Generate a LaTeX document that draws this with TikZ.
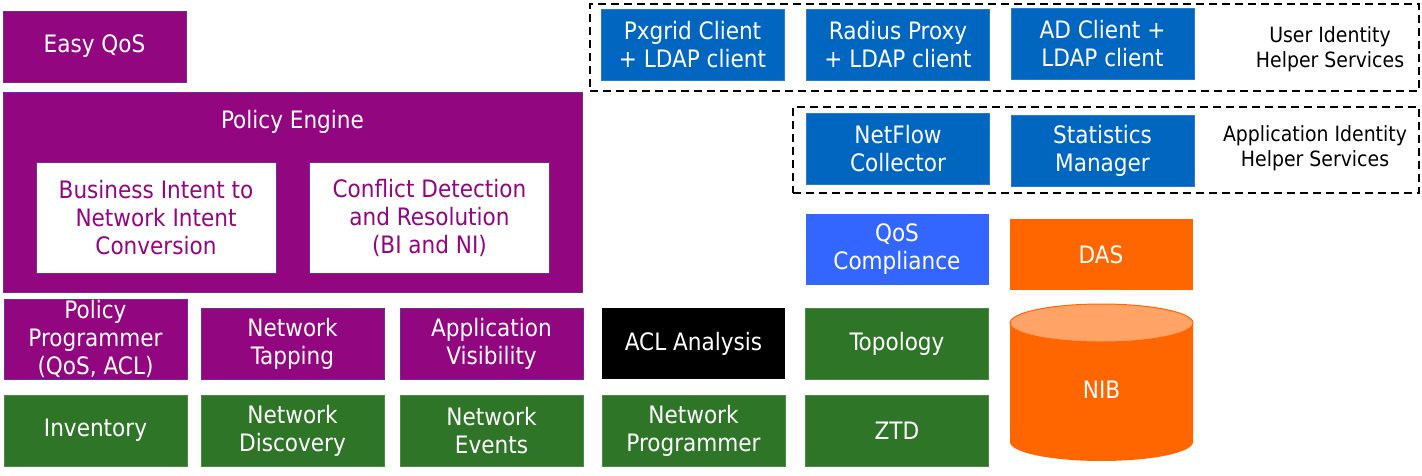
\documentclass[tikz,border=0pt]{standalone}
\usepackage{fontspec}
\setmainfont{DejaVu Sans Condensed}
\usepackage{tikz}
\usetikzlibrary{positioning}
\definecolor{cpurple}{RGB}{146,6,128}
\definecolor{cpurpleline}{RGB}{110,45,150}
\definecolor{cgreen}{RGB}{46,117,40}
\definecolor{cblue}{RGB}{0,102,192}
\definecolor{clightblue}{RGB}{51,102,255}
\definecolor{corange}{RGB}{255,102,0}
\definecolor{corangetop}{RGB}{255,163,102}

\begin{document}
\begin{tikzpicture}[x=1pt,y=-1pt,
    box/.style={rectangle,minimum width=183pt,minimum height=71pt,inner sep=0pt,
                align=center,text=white,font=\fontsize{24}{28}\selectfont},
    purple box/.style={box,fill=cpurple,draw=cpurpleline,line width=0.8pt},
    green box/.style={box,fill=cgreen,draw=cgreen!85!white,line width=0.6pt},
    blue box/.style={box,fill=cblue,draw=cblue!85!white,line width=0.6pt},
    white box/.style={box,fill=white,draw=cpurpleline,line width=0.8pt,text=cpurple,
                      minimum width=240pt,minimum height=111pt},
    helper box/.style={rectangle,draw,dashed,dash pattern=on 8pt off 5pt,line width=2.2pt,inner sep=0pt},
    helper label/.style={align=center,font=\fontsize{21}{25}\selectfont}]

 \useasboundingbox (0,0) rectangle (1422,476);

 % policy side
 \node[purple box] (easy) at (94.5,46.5) {Easy QoS};
 \node[purple box,minimum width=579pt,minimum height=200pt] (engine) at (292.5,192) {};
 \node[text=white,font=\fontsize{24}{28}\selectfont] (engine title) at (292.5,122) {Policy Engine};
 \node[white box] (bi) at (156,217.5) {Business Intent to\\Network Intent\\Conversion};
 \node[white box] (cdr) at (429.5,217.5) {Conflict Detection\\and Resolution\\(BI and NI)};

 % user identity helpers
 \node[helper box,minimum width=829pt,minimum height=87pt] (user helpers) at (1004.5,47.5) {};
 \node[blue box] (pxgrid) at (692.5,44.5) {Pxgrid Client\\+ LDAP client};
 \node[blue box] (radius) at (898,44.5) {Radius Proxy\\+ LDAP client};
 \node[blue box] (ad) at (1102.5,43.5) {AD Client +\\LDAP client};
 \node[helper label] (user label) at (1330,49.5) {User Identity\\Helper Services};

 % application identity helpers
 \node[helper box,minimum width=626pt,minimum height=86pt] (app helpers) at (1106,150) {};
 \node[blue box] (netflow) at (898,149) {NetFlow\\Collector};
 \node[blue box] (stats) at (1102.5,150.5) {Statistics\\Manager};
 \node[helper label] (app label) at (1315,148) {Application Identity\\Helper Services};

 \node[box,fill=clightblue] (qos) at (897,249.5) {QoS\\Compliance};
 \node[box,fill=corange] (das) at (1101,254.5) {DAS};

 % apps
 \node[purple box,minimum height=80pt] (pp) at (95.5,339) {Policy\\Programmer\\(QoS, ACL)};
 \node[purple box] (tap) at (292.5,343.5) {Network\\Tapping};
 \node[purple box] (appvis) at (491.5,343.5) {Application\\Visibility};
 \node[box,fill=black] (acl) at (693.5,343.5) {ACL Analysis};
 \node[green box] (topo) at (897,343.5) {Topology};

 % services
 \node[green box] (inv) at (95.5,430.5) {Inventory};
 \node[green box] (disc) at (292.5,430.5) {Network\\Discovery};
 \node[green box] (events) at (491.5,430.5) {Network\\Events};
 \node[green box] (prog) at (693.5,430.5) {Network\\Programmer};
 \node[green box] (ztd) at (897,430.5) {ZTD};

 % NIB store
 \fill[corange] (1010,323) -- (1010,442)
   arc[start angle=180,end angle=360,x radius=91.5pt,y radius=19pt] -- (1193,323) -- cycle;
 \draw[corange,fill=corangetop,line width=1pt] (1101.5,323) ellipse [x radius=91.5pt,y radius=19pt];
 \node[text=white,font=\fontsize{24}{28}\selectfont] (nib) at (1101.5,390) {NIB};

\end{tikzpicture}
\end{document}
